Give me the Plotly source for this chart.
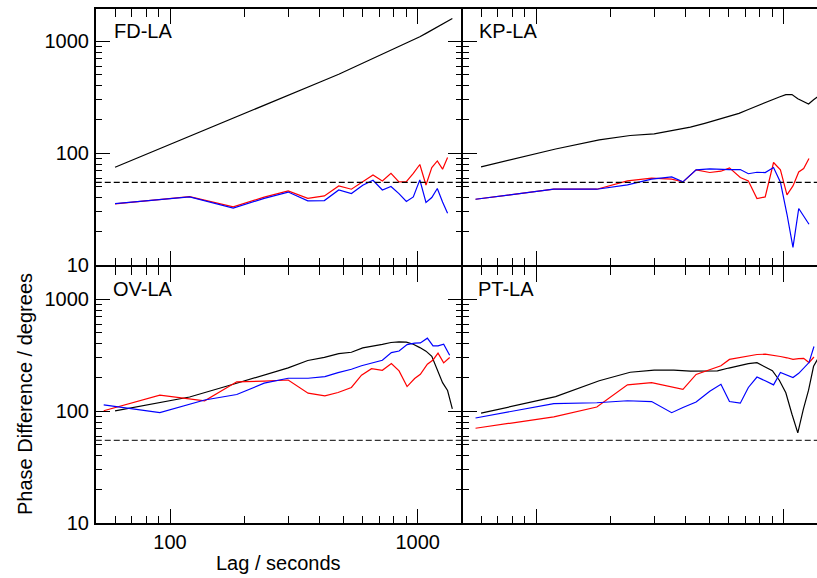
import math
import plotly.graph_objects as go

# ---------------- data ----------------
lags = [60, 120, 180, 240, 300, 360, 420, 480, 540, 600, 660, 720, 780, 840,
        900, 960, 1020, 1080, 1140, 1200, 1260, 1320, 1380]
lags_ov = [54, 91, 138, 186, 240, 300, 361, 422, 477, 540, 593, 651, 720, 783,
           841, 906, 972, 1025, 1094, 1153, 1208, 1273, 1346]
lags_r = [57, 118, 176, 234, 293, 353, 392, 443, 503, 558, 604, 668, 720, 780,
          842, 910, 970, 1031, 1090, 1150, 1204, 1265, 1325]

fd_black = [75, 141, 205, 267, 327, 388, 448, 507, 572, 637, 701, 766, 829, 894,
            960, 1023, 1095, 1176, 1259, 1342, 1427, 1511, 1599]
fd_red = [35.3, 41, 33.2, 40.5, 46, 39.5, 41.6, 51, 47.7, 55.5, 64, 56.6, 66.2,
          55.5, 55.8, 66, 79.3, 52, 74.5, 85.3, 72, 91.6]
fd_blue = [35.5, 40.8, 32.3, 39.5, 45, 37.5, 37.8, 47, 43.6, 51.8, 57.4, 47, 50.4,
           43.6, 37.1, 40.7, 57.8, 36.3, 40.2, 48.4, 36.7, 29.1]

kp_black = [75.5, 109, 131.5, 144, 149, 161, 171, 185, 199, 212, 227, 246, 265,
            284, 302, 318, 333, 334, 307, 289, 275, 300, 323]
kp_red = [38.8, 47.7, 47.7, 56.6, 59.8, 58.6, 55.5, 71, 67.3, 69.1, 74, 60.7, 56.6,
          39.4, 40.7, 82.6, 71, 42.5, 51.1, 68.1, 73, 89.7]
kp_blue = [38.8, 47.7, 47.7, 52.1, 58.6, 61.4, 55.5, 71, 72.4, 71.5, 71.5, 71.5,
           65.6, 67.6, 67.2, 74.5, 55.1, 28.5, 14.4, 32.1, 27.3, 23.2]

ov_black = [100.7, 134, 174, 210, 244, 284, 303, 327, 336, 368, 380, 395, 411, 416,
            414, 396, 370, 344, 309, 237, 180, 153, 105]
ov_red = [101, 139, 124, 183, 186, 190, 145, 137, 147, 163, 210, 240, 232, 267, 229,
          166, 196, 214, 263, 287, 330, 270, 302]
ov_blue = [114, 97.3, 126, 141, 178, 197, 197, 204, 221, 237, 255, 268, 285, 334,
           345, 394, 405, 407, 449, 383, 383, 397, 316]

pt_black = [96, 135, 187, 223, 233, 233, 228, 227, 229, 243, 256, 266, 271, 250,
            230, 189, 146, 94, 64, 104, 154, 252, 300]
pt_red = [70.5, 89, 109, 172, 180, 164, 157, 213, 234, 255, 290, 301, 310, 321, 323,
          316, 308, 300, 291, 295, 297, 272, 305]
pt_blue = [87, 117, 119, 124, 122, 97, 108, 121, 151, 174, 122, 118, 163, 202, 187,
           172, 222, 210, 200, 218, 242, 272, 378]

threshold = 55
panel_names = ["FD-LA", "KP-LA", "OV-LA", "PT-LA"]
x_major = [100, 1000]
x_minor = [60, 70, 80, 90, 200, 300, 400, 500, 600, 700, 800, 900]
y_major = [10, 100, 1000]
y_minor = [20, 30, 40, 50, 60, 70, 80, 90, 200, 300, 400, 500, 600, 700, 800, 900]

# ---------------- figure geometry (pixels) ----------------
W, H = 817, 578
ML, MR, MT, MB = 95, 0, 8, 54
PW, PH = W - ML - MR, H - MT - MB
LW = 1.5
h = LW / 2
# plot-area pixel boxes (outer line positions: 95 / 462 / 817 and 8 / 266 / 524)
left_box = (95 + h, 462 - h)
right_box = (462 + h, 817)
top_box = (8 + h, 266 - h)
bot_box = (266 + h, 524 - h)


def xdom(b):
    return [(b[0] - ML) / PW, (b[1] - ML) / PW]


def ydom(b):
    return [(H - MB - b[1]) / PH, (H - MB - b[0]) / PH]


X100L, XDEC = 170.0, 247.7
X100R = 536.0


def xrange(box, x100):
    return [2 + (box[0] - x100) / XDEC, 2 + (box[1] - x100) / XDEC]


YDEC = 112.0


def yrange(box):
    # the 10 tick sits on the bottom edge of each panel
    return [0.9995, 1 + (box[1] - box[0]) / YDEC]


FONT = "Arial, Liberation Sans, sans-serif"
fig = go.Figure()

panels = [
    (fd_black, lags, fd_red, fd_blue, lags, "x", "y", "black"),
    (kp_black, lags, kp_red, kp_blue, lags_r, "x2", "y2", "black"),
    (ov_black, lags, ov_red, ov_blue, lags_ov, "x3", "y3", "#333333"),
    (pt_black, lags, pt_red, pt_blue, lags_r, "x4", "y4", "#333333"),
]
for blk, lb, red, blue, lrb, xa, ya, dcol in panels:
    fig.add_trace(go.Scatter(x=lb[:len(blk)], y=blk, mode="lines",
                             line=dict(color="black", width=1.2),
                             xaxis=xa, yaxis=ya, showlegend=False))
    fig.add_trace(go.Scatter(x=lrb[:len(red)], y=red, mode="lines",
                             line=dict(color="#ff0000", width=1.2),
                             xaxis=xa, yaxis=ya, showlegend=False))
    fig.add_trace(go.Scatter(x=lrb[:len(blue)], y=blue, mode="lines",
                             line=dict(color="#0000ff", width=1.2),
                             xaxis=xa, yaxis=ya, showlegend=False))
    fig.add_shape(type="line", xref=f"{xa} domain", yref=ya, x0=0, x1=1,
                  y0=threshold, y1=threshold,
                  line=dict(color=dcol, width=1.2, dash="6px,3px"))


def xaxis(box, x100, labels, anchor):
    return dict(type="log", domain=xdom(box), range=xrange(box, x100), anchor=anchor,
                tickvals=x_major, ticktext=["100", "1000"],
                ticks="inside", ticklen=15, tickwidth=1.3, tickcolor="black",
                showline=True, linewidth=LW, linecolor="black",
                mirror="allticks", showgrid=False, zeroline=False,
                showticklabels=labels, ticklabelstandoff=0,
                tickfont=dict(family=FONT, size=20, color="black"),
                minor=dict(ticks="inside", ticklen=8, tickwidth=1.2,
                           tickcolor="black", tickvals=x_minor, showgrid=False))


def yaxis(box, labels, anchor, mirror):
    return dict(type="log", domain=ydom(box), range=yrange(box), anchor=anchor,
                tickvals=y_major, ticktext=["10", "100", "1000"],
                ticks="inside", ticklen=14, tickwidth=1.3, tickcolor="black",
                showline=True, linewidth=LW, linecolor="black",
                mirror=mirror, showgrid=False, zeroline=False,
                showticklabels=labels, ticklabelstandoff=1,
                tickfont=dict(family=FONT, size=20, color="black"),
                minor=dict(ticks="inside", ticklen=6, tickwidth=1.2,
                           tickcolor="black", tickvals=y_minor, showgrid=False))


fig.update_layout(
    width=W, height=H,
    margin=dict(l=ML, r=MR, t=MT, b=MB, pad=0),
    paper_bgcolor="white", plot_bgcolor="white",
    font=dict(family=FONT, size=20, color="black"),
    xaxis=xaxis(left_box, X100L, False, "y"),
    xaxis2=xaxis(right_box, X100R, False, "y2"),
    xaxis3=xaxis(left_box, X100L, True, "y3"),
    xaxis4=xaxis(right_box, X100R, False, "y4"),
    yaxis=yaxis(top_box, True, "x", "allticks"),
    yaxis2=yaxis(top_box, False, "x2", False),
    yaxis3=yaxis(bot_box, True, "x3", "allticks"),
    yaxis4=yaxis(bot_box, False, "x4", False),
)


def px_to_paper(px, py):
    return (px - ML) / PW, (H - MB - py) / PH


label_pos = [(112, 18), (477, 18), (111, 276), (476, 276)]
for name, (lx, ly) in zip(panel_names, label_pos):
    ax, ay = px_to_paper(lx, ly)
    fig.add_annotation(text=name, x=ax, y=ay, xref="paper", yref="paper",
                       xanchor="left", yanchor="top", showarrow=False,
                       font=dict(family=FONT, size=20, color="black"))

tx, ty = px_to_paper(278.5, 563)
fig.add_annotation(text="Lag / seconds", x=tx, y=ty, xref="paper", yref="paper",
                   xanchor="center", yanchor="middle", showarrow=False,
                   font=dict(family=FONT, size=20, color="black"))
yx, yy = px_to_paper(25, 394)
fig.add_annotation(text="Phase Difference / degrees", x=yx, y=yy, xref="paper",
                   yref="paper", xanchor="center", yanchor="middle",
                   textangle=-90, showarrow=False,
                   font=dict(family=FONT, size=20, color="black"))

fig.write_html("out.html",
               config={"displayModeBar": False},
               post_script="document.body.style.margin='0';"
                           "document.body.style.overflow='hidden';")
